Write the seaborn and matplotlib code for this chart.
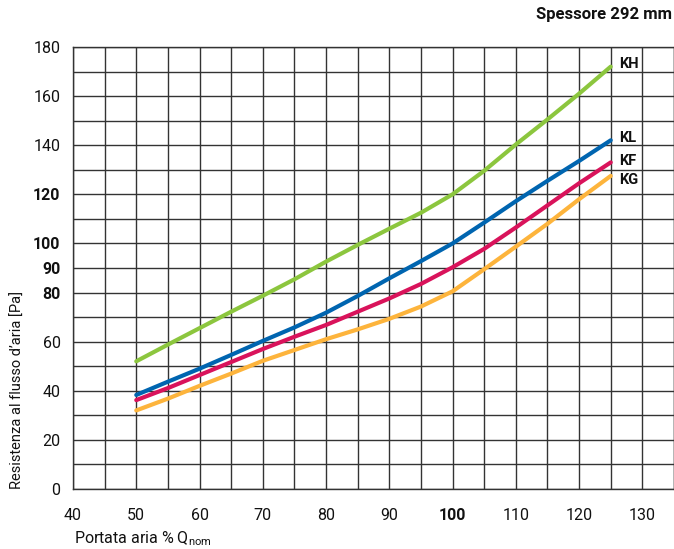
import matplotlib
matplotlib.use('Agg')
import matplotlib.pyplot as plt
import seaborn as sns
import pandas as pd

# Portata aria (% Qnom) and resistance curves [Pa]
portata = [50, 55, 60, 65, 70, 75, 80, 85, 90, 95, 100, 105, 110, 115, 120, 125]
kh = [52, 58.8, 65.5, 72.2, 78.7, 85.4, 92.6, 99.4, 106, 112.5, 120, 129.6, 140.3, 150.5, 161, 172]
kl = [38.3, 43.7, 49, 54.6, 60.3, 65.8, 71.8, 78.6, 85.8, 92.8, 100, 108.5, 117.2, 125.5, 133.6, 142]
kf = [36.2, 41.1, 46.4, 51.7, 57, 62, 66.8, 72.2, 77.6, 83.5, 90.3, 97.8, 106.5, 115.5, 124.5, 133]
kg = [32, 36.8, 42, 47, 52.2, 56.6, 61, 65, 69.3, 74.3, 80.5, 89.5, 98.7, 108, 118, 127.5]
series = ['KH', 'KL', 'KF', 'KG']
colors = ['#8cc63e', '#0065b0', '#d9135b', '#fdb43c']

y_ticks = [0, 20, 40, 60, 80, 90, 100, 120, 140, 160, 180]
bold_y = [80, 90, 100, 120]
x_ticks = [40, 50, 60, 70, 80, 90, 100, 110, 120, 130]

df = pd.DataFrame({'portata': portata * 4,
                   'pa': kh + kl + kf + kg,
                   'curve': [s for s in series for _ in portata]})

sns.set_style('white')
plt.rcParams['font.family'] = ['Liberation Sans Narrow', 'Roboto', 'DejaVu Sans']
plt.rcParams['mathtext.fontset'] = 'custom'
plt.rcParams['mathtext.rm'] = 'Roboto'

fig = plt.figure(figsize=(6.74, 5.49), dpi=100)
ax = fig.add_axes([73 / 674, 1 - 489 / 549, 601 / 674, 442 / 549])

sns.lineplot(data=df, x='portata', y='pa', hue='curve', hue_order=series,
             palette=colors, linewidth=3, legend=False, ax=ax, zorder=3)

ax.set_xlim(40, 135)
ax.set_ylim(0, 180)
ax.set_xticks(x_ticks)
ax.set_xticks(range(45, 136, 5), minor=True)
ax.set_yticks(y_ticks)
ax.set_yticks(range(10, 180, 10), minor=True)
ax.grid(True, which='both', color='#333333', linewidth=1)
ax.tick_params(which='major', length=5, width=1, color='#333333', labelsize=11.5,
               labelcolor='#111111', direction='out')
ax.tick_params(which='minor', length=0)
ax.tick_params(axis='y', pad=4)
ax.tick_params(axis='x', pad=9)
for sp in ax.spines.values():
    sp.set_color('#333333')
    sp.set_linewidth(1)

for lab, v in zip(ax.get_yticklabels(), y_ticks):
    if v in bold_y:
        lab.set_fontweight('bold')
for lab, v in zip(ax.get_xticklabels(), x_ticks):
    if v == 100:
        lab.set_fontweight('bold')

ax.set_xlabel('')
ax.set_ylabel('')

# curve names at the end of each line
offsets = {'KH': 2, 'KL': 2, 'KF': 1, 'KG': -3}
ends = {'KH': kh[-1], 'KL': kl[-1], 'KF': kf[-1], 'KG': kg[-1]}
for s in series:
    ax.annotate(s, (portata[-1], ends[s]), xytext=(6, offsets[s]),
                textcoords='offset points', fontsize=10.5, fontweight='bold',
                va='center', ha='left', color='#111111')

fig.text(672 / 674, 1 - 14 / 549, 'Spessore 292 mm', ha='right', va='center',
         fontsize=12, fontweight='bold', color='#111111')
fig.text(18 / 674, 1 - 489 / 549, "Resistenza al flusso d\u2019aria [Pa]", rotation=90,
         ha='center', va='bottom', fontsize=10.5, color='#111111')
fig.text(74 / 674, 1 - 539 / 549, r'Portata aria % Q$_{\mathrm{nom}}$', ha='left',
         va='center', fontsize=11.5, color='#111111')

fig.savefig('out.png', dpi=100)
